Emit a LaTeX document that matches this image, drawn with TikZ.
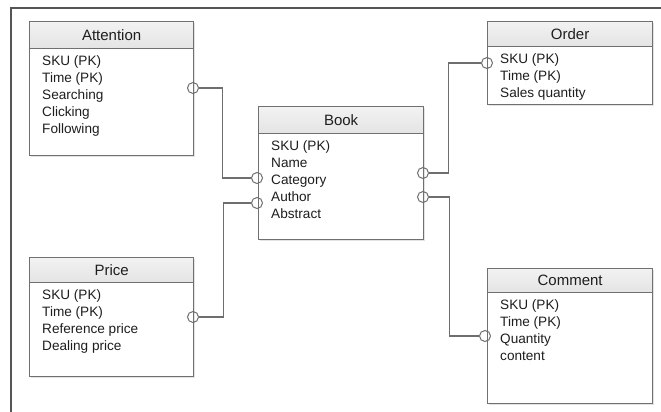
\documentclass[tikz,border=0pt]{standalone}
\usepackage{fontspec}
\setmainfont{Liberation Sans}
\usetikzlibrary{shadows}
\definecolor{boxgray}{HTML}{707070}
\definecolor{linegray}{HTML}{6E6E6E}
\definecolor{framegray}{HTML}{555555}
\definecolor{hdrtop}{HTML}{F2F2F2}
\definecolor{hdrbot}{HTML}{E4E4E4}
\definecolor{txt}{HTML}{1E1E1E}
\newcommand{\rowfont}{\fontsize{13.6}{17}\selectfont}
\newcommand{\titlefont}{\fontsize{15}{18}\selectfont}
\begin{document}
\begin{tikzpicture}[x=1pt,y=-1pt,
  ent/.style={draw=boxgray, line width=1.3pt, fill=white, inner sep=0pt, anchor=north west,
    drop shadow={shadow xshift=1.2pt, shadow yshift=-1.2pt, fill=black!18, opacity=0.6}},
  hdr/.style={draw=boxgray, line width=1.3pt, top color=hdrtop, bottom color=hdrbot,
    inner sep=0pt, anchor=north west},
  ttl/.style={font=\titlefont, text=txt, inner sep=0pt},
  row/.style={font=\rowfont, text=txt, inner sep=0pt, anchor=base west},
  port/.style={circle, draw=linegray, line width=1pt, minimum size=11pt, inner sep=0pt},
  link/.style={draw=linegray, line width=1.2pt},
  frame/.style={draw=framegray, line width=2pt}]
\useasboundingbox (0,0) rectangle (661,412);
\fill[white] (0,0) rectangle (661,412);
\draw[frame] (11,413) -- (11,8) -- (662,8);

% entity: name, left, top, width, height, header height, title, rows
\newcommand{\entity}[8]{%
  \node[ent, minimum width=#4pt, minimum height=#5pt] (#1) at (#2,#3) {};
  \node[hdr, minimum width=#4pt, minimum height=#6pt] (#1-h) at (#2,#3) {};
  \node[ttl] (#1-t) at (#1-h.center) {#7};
  \foreach \r [count=\i] in {#8} {
    \node[row] (#1-r\i) at ({#2+13},{#3+#6+\i*17+0.5}) {\r};
  }%
}

\entity{att}{29}{21}{164}{134}{27}{Attention}{SKU (PK),Time (PK),Searching,Clicking,Following}
\entity{book}{258}{106}{165}{133}{27}{Book}{SKU (PK),Name,Category,Author,Abstract}
\entity{ord}{487}{21}{165}{83}{25}{Order}{SKU (PK),Time (PK),Sales quantity}
\entity{price}{29}{257}{164}{119}{25}{Price}{SKU (PK),Time (PK),Reference price,Dealing price}
\entity{com}{487}{268}{165}{135}{24}{Comment}{SKU (PK),Time (PK),Quantity,content}

% relationship ends
\node[port] (pAtt) at (193,88) {};
\node[port] (pBookA) at (257,178) {};
\node[port] (pPrice) at (193,317) {};
\node[port] (pBookP) at (257,203) {};
\node[port] (pBookO) at (423,173) {};
\node[port] (pOrd) at (487,63) {};
\node[port] (pBookC) at (423,197) {};
\node[port] (pCom) at (485,336) {};

\draw[link] (pAtt.east) -- ++(23.5,0) |- (pBookA.west);
\draw[link] (pPrice.east) -- ++(24.5,0) |- (pBookP.west);
\draw[link] (pBookO.east) -- ++(19.5,0) |- (pOrd.west);
\draw[link] (pBookC.east) -- ++(20.5,0) |- (pCom.west);
\end{tikzpicture}
\end{document}
